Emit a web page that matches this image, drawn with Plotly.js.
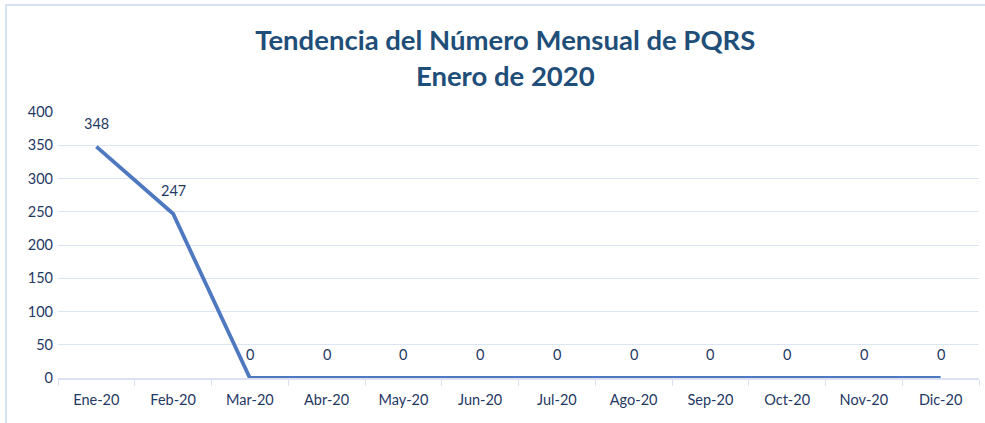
<!DOCTYPE html>
<html>
<head>
<meta charset="utf-8">
<script src="https://cdn.plot.ly/plotly-3.0.1.min.js"></script>
<style>
html,body{margin:0;padding:0;background:#fff;}
#chart{width:985px;height:423px;}
</style>
</head>
<body>
<div id="chart"></div>
<script>
const months = ["Ene-20","Feb-20","Mar-20","Abr-20","May-20","Jun-20","Jul-20","Ago-20","Sep-20","Oct-20","Nov-20","Dic-20"];
const pqrs = [348, 247, 0, 0, 0, 0, 0, 0, 0, 0, 0, 0];
const yTicks = [0, 50, 100, 150, 200, 250, 300, 350, 400];

const navy = "#1F3864";
const fam = "Lato, 'Open Sans', sans-serif";
const trace = {
  x: months,
  y: pqrs,
  type: "scatter",
  mode: "lines",
  line: {color: "#4E79C0", width: 3.8},
  cliponaxis: false,
  hoverinfo: "x+y"
};

const labels = months.map((m, i) => ({
  x: m, y: pqrs[i], xref: "x", yref: "y",
  text: String(pqrs[i]), showarrow: false,
  yanchor: "bottom", xanchor: "center", yshift: 13,
  font: {family: fam, size: 14.5, color: navy}
}));

const layout = {
  width: 985, height: 423,
  paper_bgcolor: "#fff", plot_bgcolor: "#fff",
  margin: {l: 58, r: 6, t: 112, b: 45},
  showlegend: false,
  font: {family: fam, color: navy, size: 14},
  title: {
    text: "<b>Tendencia del Número Mensual de PQRS<br>Enero de 2020</b>",
    font: {family: fam, size: 27.5, color: "#1F4E79"},
    x: 0.513, xanchor: "center",
    y: 1 - 50/423, yanchor: "top", yref: "container"
  },
  xaxis: {
    type: "category",
    range: [-0.5, 11.5],
    showgrid: false,
    showline: true, linecolor: "#D9E1F2", linewidth: 1.5,
    ticks: "outside", tickson: "boundaries", ticklen: 6, tickcolor: "#D9E1F2",
    ticklabelstandoff: 8,
    tickfont: {size: 14.5, color: navy},
    zeroline: false
  },
  yaxis: {
    range: [0, 400],
    tickvals: yTicks,
    showgrid: true, gridcolor: "#DCE6F2", gridwidth: 1,
    zeroline: false, showline: false,
    ticks: "", ticklen: 0,
    ticklabelstandoff: 4,
    tickfont: {size: 14.5, color: navy},
    automargin: false
  },
  annotations: labels,
  shapes: [{
    type: "rect", xref: "paper", yref: "paper",
    x0: -52/921, x1: 1.02, y0: -0.3, y1: 1 + 107/266,
    line: {color: "#D6E2F3", width: 2}, fillcolor: "rgba(0,0,0,0)", layer: "below"
  }]
};

Plotly.newPlot("chart", [trace], layout, {displayModeBar: false, staticPlot: true});
</script>
</body>
</html>
